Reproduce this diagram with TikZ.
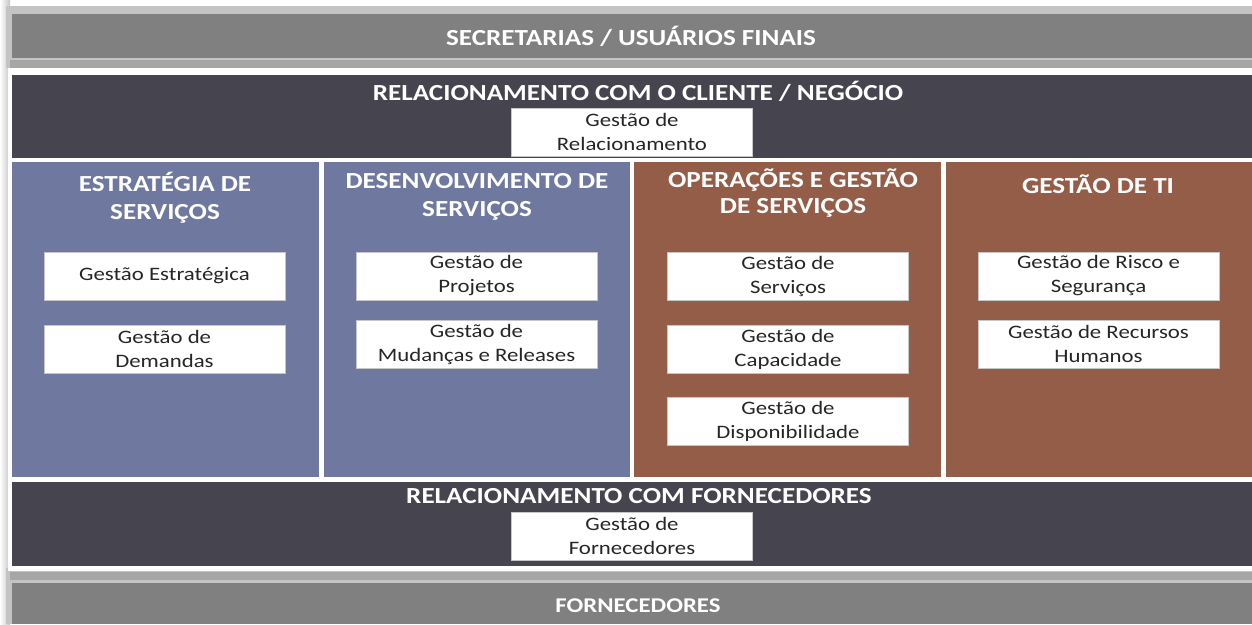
\documentclass[tikz,border=0pt]{standalone}
\usepackage{fontspec}
\setmainfont{Carlito}
\newfontfamily\titlefont[FakeStretch=1.18]{Carlito}
\newfontfamily\boxfont[FakeStretch=1.2]{Carlito}
\definecolor{bargray}{HTML}{808080}
\definecolor{darkband}{HTML}{46454F}
\definecolor{bluecol}{HTML}{6F789F}
\definecolor{browncol}{HTML}{945D48}
\definecolor{shadowgray}{HTML}{C4C4C4}
\begin{document}
\begin{tikzpicture}[x=1pt,y=-1pt,
  bar/.style={fill=bargray,draw=none},
  band/.style={fill=darkband,draw=none},
  colblue/.style={fill=bluecol,draw=none},
  colbrown/.style={fill=browncol,draw=none},
  headtxt/.style={text=white,font=\titlefont\fontsize{23}{28}\selectfont\bfseries,inner sep=0pt},
  coltxt/.style={text=white,font=\titlefont\fontsize{23}{28}\selectfont\bfseries,align=center,inner sep=0pt},
  procbox/.style={fill=white,draw=gray!45,line width=0.8pt,minimum width=241pt,minimum height=48pt,
    inner sep=0pt,align=center,text=black!85,font=\boxfont\fontsize{19}{24}\selectfont}
]
\useasboundingbox (0,0) rectangle (1252,624);
\fill[white] (0,0) rectangle (1252,624);
% shadows / frame
\shade[left color=white,right color=shadowgray] (0,0) rectangle (10,624);
\fill[shadowgray] (6,6) rectangle (1252,68);
\fill[shadowgray] (6,568) rectangle (1252,624);
\fill[gray!70] (10,60) rectangle (1252,68);
\fill[gray!70] (10,572) rectangle (1252,580);
\fill[white] (8,68) rectangle (1252,571);
% top and bottom bars
\path[bar] (12,14) rectangle (1252,58);
\path[bar] (12,583) rectangle (1252,624);
\node[headtxt] (top) at (631,36) {SECRETARIAS / USUÁRIOS FINAIS};
\node[headtxt,font=\titlefont\fontsize{21}{26}\selectfont\bfseries] (forn) at (638,606) {FORNECEDORES};
% bands
\path[band] (12,75) rectangle (1252,158);
\path[band] (12,482) rectangle (1252,566);
\node[headtxt] (relcli) at (638,91) {RELACIONAMENTO COM O CLIENTE / NEGÓCIO};
\node[headtxt] (relforn) at (639,496) {RELACIONAMENTO COM FORNECEDORES};
% columns
\path[colblue] (12,162) rectangle (319,477);
\path[colblue] (324,162) rectangle (630,477);
\path[colbrown] (634,162) rectangle (941,477);
\path[colbrown] (946,162) rectangle (1252,477);
\node[coltxt] (c1) at (165,198) {ESTRATÉGIA DE\\SERVIÇOS};
\node[coltxt] (c2) at (477,197) {DESENVOLVIMENTO DE\\SERVIÇOS};
\node[coltxt,font=\titlefont\fontsize{23}{26}\selectfont\bfseries] (c3) at (793,193) {OPERAÇÕES E GESTÃO\\DE SERVIÇOS};
\node[coltxt] (c4) at (1098,184) {GESTÃO DE TI};
% boxes
\node[procbox] (grel) at (632,132) {Gestão de\\Relacionamento};
\node[procbox] (gforn) at (632,536) {Gestão de\\Fornecedores};
\node[procbox] (gest) at (164.5,276) {Gestão Estratégica};
\node[procbox] (gdem) at (164.5,349) {Gestão de\\Demandas};
\node[procbox] (gproj) at (476.5,276) {Gestão de\\Projetos};
\node[procbox] (gmud) at (476.5,344) {Gestão de\\Mudanças e Releases};
\node[procbox] (gserv) at (788,276) {Gestão de\\Serviços};
\node[procbox] (gcap) at (788,349) {Gestão de\\Capacidade};
\node[procbox] (gdisp) at (788,421) {Gestão de\\Disponibilidade};
\node[procbox] (grisco) at (1098.5,276) {Gestão de Risco e\\Segurança};
\node[procbox] (grh) at (1098.5,344) {Gestão de Recursos\\Humanos};
\end{tikzpicture}
\end{document}
